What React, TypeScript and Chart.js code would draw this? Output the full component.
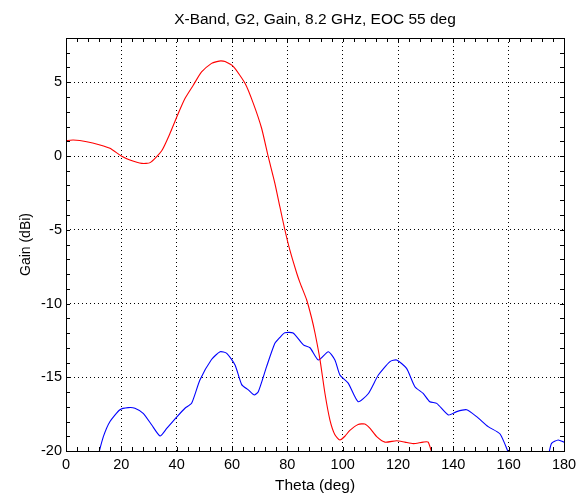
import React, { useEffect, useRef } from "react";
import { Chart, registerables } from "chart.js";

Chart.register(...registerables);

const chartTitle = "X-Band, G2, Gain, 8.2 GHz, EOC 55 deg";
const xLabel = "Theta (deg)";
const yLabel = "Gain (dBi)";

const xTicks = [0, 20, 40, 60, 80, 100, 120, 140, 160, 180];
const yTicks = [-20, -15, -10, -5, 0, 5];
const xRange = [0, 180];
const yRange = [-20, 8];
const xMinorStep = 4;
const yMinorStep = 1;

const thetaRed = [
  0, 2.6, 7.5, 12.3, 15.9, 20, 23.1, 27.4, 30.4, 34.6, 37.6, 40.6, 43, 46, 49,
  52.6, 54.5, 56, 57.5, 60.5, 64.7, 67.7, 70.7, 73.1, 75.5, 77.3, 79.1, 80.9,
  83.4, 84.6, 87, 88.8, 90, 91.8, 93.6, 95.4, 97.2, 99, 100.8, 102.6, 105.6,
  108, 109.9, 112.3, 115.3, 119.5, 122.5, 125.5, 129.1, 130.9, 132.5,
];
const gainRed = [
  1.04, 1.08, 0.97, 0.75, 0.52, 0, -0.27, -0.5, -0.45, 0.36, 1.54, 2.9, 3.9,
  4.8, 5.7, 6.28, 6.4, 6.45, 6.4, 6.06, 4.93, 3.57, 1.88, -0.05, -1.85, -3.44,
  -5.0, -6.37, -7.95, -8.6, -9.76, -11.0, -12.0, -13.8, -16.1, -17.9, -18.9,
  -19.25, -19.0, -18.6, -18.2, -18.17, -18.47, -19.03, -19.4, -19.3, -19.4,
  -19.5, -19.4, -19.4, -20.3,
];

const thetaBlue = [
  11.5, 13.5, 15.9, 19.5, 22.5, 24.9, 27.9, 31, 34, 36.4, 40, 43, 45.4, 48.4,
  52.6, 55.7, 58.1, 61.1, 63.5, 65.9, 68, 69.5, 72.5, 75.5, 77.3, 79.1, 82.1,
  85.8, 88.2, 91.2, 94.8, 97.2, 99, 102, 105.6, 109.3, 112.9, 117.1, 119.5,
  123.1, 126.1, 129.1, 131.5, 134, 138.2, 141.2, 144.8, 148.4, 152.6, 156.9,
  160.3, 167, 174.5, 175.5, 177.9, 180,
];
const gainBlue = [
  -20.4, -19.03, -18.0, -17.2, -17.06, -17.1, -17.45, -18.24, -18.98, -18.47,
  -17.7, -17.1, -16.77, -15.19, -13.8, -13.27, -13.38, -14.17, -15.5, -15.86,
  -16.2, -15.98, -14.28, -12.7, -12.3, -11.98, -12.0, -12.8, -13.0, -13.83,
  -13.27, -13.83, -14.85, -15.4, -16.66, -16.1, -14.85, -13.94, -13.83, -14.4,
  -15.64, -16.1, -16.66, -16.77, -17.56, -17.33, -17.2, -17.67, -18.35, -18.85,
  -20.3, null, -20.2, -19.48, -19.25, -19.4,
];

const FONT = "'Liberation Sans', Arial, sans-serif";

const frameTicks = {
  id: "frameTicks",
  afterDatasetsDraw(chart: any) {
    const { ctx, chartArea, scales } = chart;
    const { left, right, top, bottom } = chartArea;
    const x = scales.x;
    const y = scales.y;
    const len = 4;
    ctx.save();
    ctx.strokeStyle = "#000";
    ctx.lineWidth = 1;
    ctx.setLineDash([]);
    ctx.beginPath();
    for (let v = xRange[0]; v <= xRange[1] + 1e-9; v += xMinorStep) {
      const px = Math.round(x.getPixelForValue(v)) + 0.5;
      ctx.moveTo(px, bottom);
      ctx.lineTo(px, bottom - len);
      ctx.moveTo(px, top);
      ctx.lineTo(px, top + len);
    }
    for (let v = yRange[0]; v <= yRange[1] + 1e-9; v += yMinorStep) {
      const py = Math.round(y.getPixelForValue(v)) + 0.5;
      ctx.moveTo(left, py);
      ctx.lineTo(left + len, py);
      ctx.moveTo(right, py);
      ctx.lineTo(right - len, py);
    }
    ctx.stroke();
    ctx.strokeRect(
      Math.round(left) + 0.5,
      Math.round(top) + 0.5,
      Math.round(right) - Math.round(left),
      Math.round(bottom) - Math.round(top)
    );
    ctx.restore();
  },
  afterDraw(chart: any) {
    const { ctx, chartArea } = chart;
    ctx.save();
    ctx.fillStyle = "#000";
    ctx.font = `15.5px ${FONT}`;
    ctx.textAlign = "center";
    ctx.textBaseline = "middle";
    ctx.fillText(chartTitle, (chartArea.left + chartArea.right) / 2, chartArea.top / 2 + 1);
    ctx.restore();
  },
};

export default function App() {
  const ref = useRef<HTMLCanvasElement | null>(null);

  useEffect(() => {
    document.body.style.margin = "0";
    const canvas = ref.current;
    if (!canvas) return;
    Chart.defaults.font.family = FONT;
    Chart.defaults.color = "#000";

    const chart = new Chart(canvas, {
      type: "line",
      data: {
        datasets: [
          {
            label: "red",
            data: thetaRed.map((t, i) => ({ x: t, y: gainRed[i] })),
            borderColor: "#ff0000",
            borderWidth: 1.1,
            pointRadius: 0,
            tension: 0.2,
            fill: false,
          },
          {
            label: "blue",
            data: thetaBlue.map((t, i) => ({ x: t, y: gainBlue[i] })),
            borderColor: "#0000ff",
            borderWidth: 1.1,
            pointRadius: 0,
            tension: 0.2,
            fill: false,
            spanGaps: false,
          },
        ],
      },
      options: {
        responsive: false,
        animation: false,
        events: [],
        layout: { padding: { left: 0, right: 22, top: 38, bottom: 0 } },
        plugins: {
          legend: { display: false },
          tooltip: { enabled: false },
          title: { display: false },
        },
        scales: {
          x: {
            type: "linear",
            min: xRange[0],
            max: xRange[1],
            afterBuildTicks: (s: any) => {
              s.ticks = xTicks.map((v) => ({ value: v }));
            },
            afterFit: (s: any) => {
              s.height = 44;
            },
            grid: { color: "#000", lineWidth: 1, drawTicks: false },
            border: { display: false, dash: [1, 3] },
            ticks: {
              color: "#000",
              padding: 5,
              maxRotation: 0,
              autoSkip: false,
              font: { size: 14.5, family: FONT },
            },
            title: {
              display: true,
              text: xLabel,
              color: "#000",
              font: { size: 15.5, family: FONT },
              padding: { top: 0, bottom: 0 },
            },
          },
          y: {
            type: "linear",
            min: yRange[0],
            max: yRange[1],
            afterBuildTicks: (s: any) => {
              s.ticks = yTicks.map((v) => ({ value: v }));
            },
            afterFit: (s: any) => {
              s.width = 66;
            },
            grid: { color: "#000", lineWidth: 1, drawTicks: false },
            border: { display: false, dash: [1, 3] },
            ticks: {
              color: "#000",
              padding: 4,
              autoSkip: false,
              font: { size: 14.5, family: FONT },
            },
            title: {
              display: true,
              text: yLabel,
              color: "#000",
              font: { size: 14, family: FONT },
              padding: { top: 18, bottom: 0 },
            },
          },
        },
      },
      plugins: [frameTicks],
    } as any);

    return () => chart.destroy();
  }, []);

  return (
    <div style={{ width: 586, height: 495, background: "#fff" }}>
      <canvas ref={ref} width={586} height={495} style={{ display: "block" }} />
    </div>
  );
}
